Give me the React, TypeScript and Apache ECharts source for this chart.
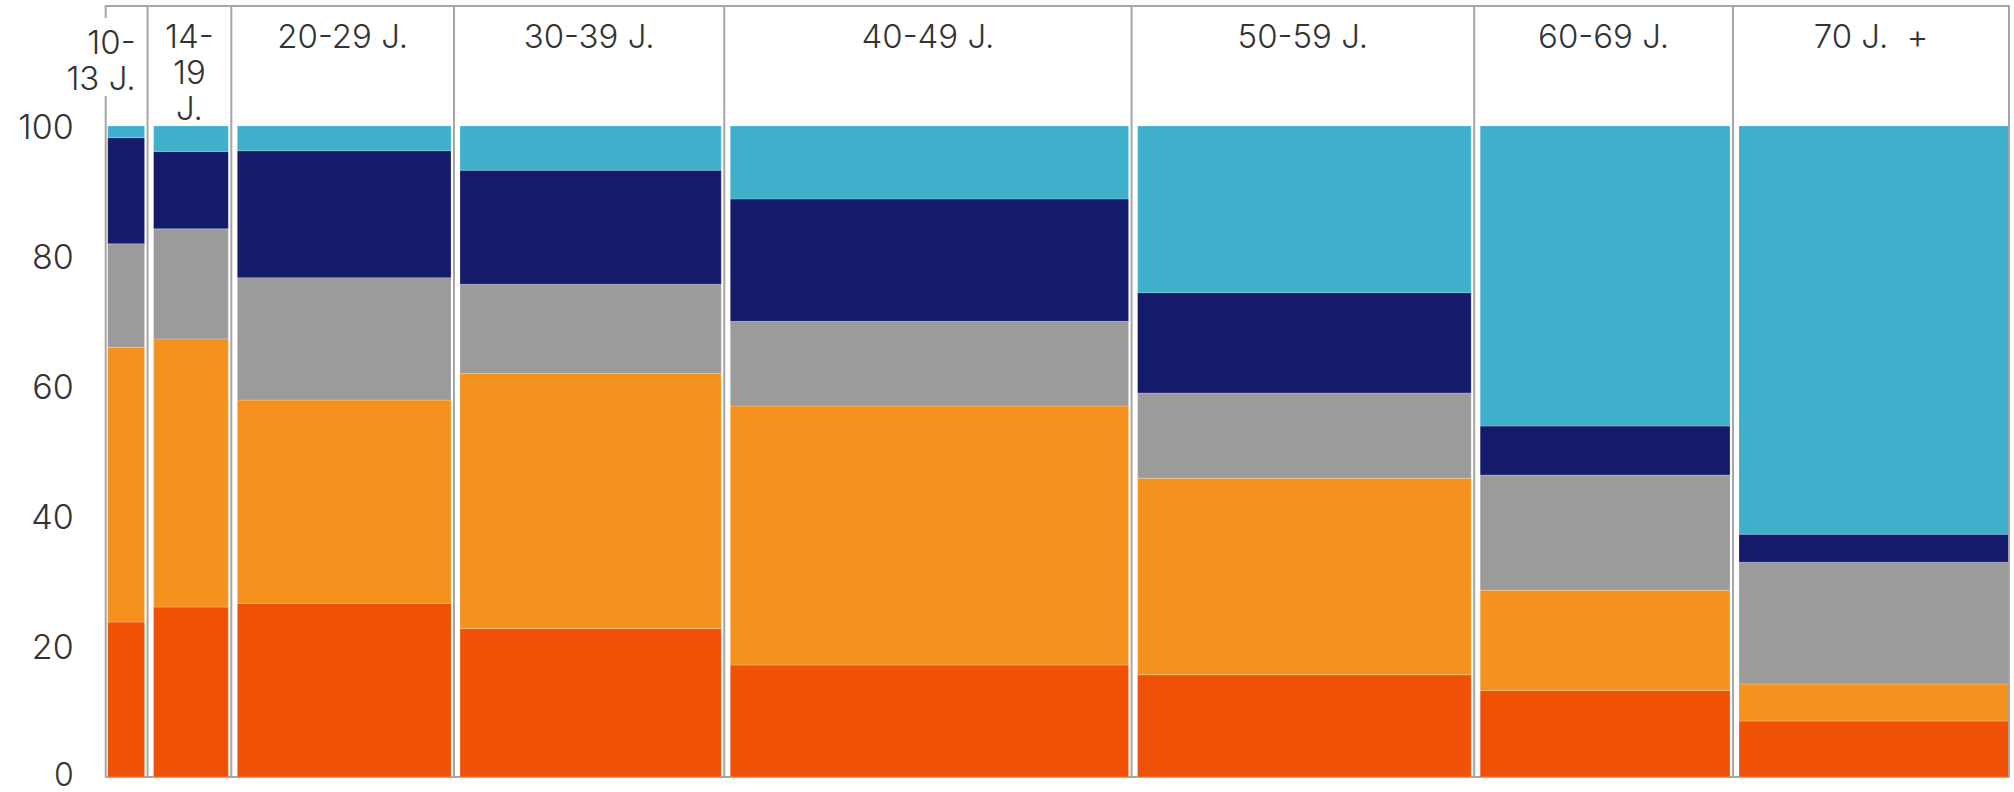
import React, { useEffect, useRef } from "react";
import * as echarts from "echarts";

// Column categories (age groups) and their share of the total width
const categories = ["10-\n13 J.", "14-\n19\nJ.", "20-29 J.", "30-39 J.", "40-49 J.", "50-59 J.", "60-69 J.", "70 J.  +"];
const columnWidths = [2.2, 4.4, 11.7, 14.2, 21.4, 18.0, 13.6, 14.5];

// Stacked segment values per column (percent), bottom to top
const segmentRed = [23.8, 26.1, 26.7, 22.8, 17.2, 15.7, 13.3, 8.6];
const segmentOrange = [42.2, 41.2, 31.2, 39.2, 39.8, 30.2, 15.4, 5.7];
const segmentGray = [15.9, 16.9, 18.8, 13.7, 13.0, 13.1, 17.7, 18.7];
const segmentNavy = [16.3, 11.9, 19.5, 17.5, 18.8, 15.4, 7.5, 4.3];
const segmentLightBlue = [1.8, 3.9, 3.8, 6.8, 11.2, 25.6, 46.1, 62.7];

const yMin = 0;
const yMax = 100;
const yInterval = 20;

const FONT = "Inter, 'Noto Sans', sans-serif";
const TEXT_COLOR = "#333333";
const LINE_COLOR = "#a6a6a6";

export default function App() {
  const ref = useRef<HTMLDivElement>(null);

  useEffect(() => {
    document.documentElement.style.overflow = "hidden";
    document.body.style.margin = "0";
    document.body.style.overflow = "hidden";
    if (!ref.current) return;
    const chart = echarts.init(ref.current, undefined, { renderer: "svg" });

    const n = categories.length;
    const starts: number[] = [];
    let acc = 0;
    for (let i = 0; i < n; i++) {
      starts.push(acc);
      acc += columnWidths[i];
    }
    const total = acc;
    const boundaries = [...starts, total];

    const segments = [
      { name: "Segment 1", values: segmentRed, color: "#f05106" },
      { name: "Segment 2", values: segmentOrange, color: "#f5921e" },
      { name: "Segment 3", values: segmentGray, color: "#9b9b9b" },
      { name: "Segment 4", values: segmentNavy, color: "#131b6a" },
      { name: "Segment 5", values: segmentLightBlue, color: "#3eb0cc" },
    ];

    const base = new Array(n).fill(0);
    const barSeries = segments.map((seg) => {
      const data = seg.values.map((v, i) => {
        const item = [starts[i], starts[i] + columnWidths[i], base[i], base[i] + v, i];
        base[i] += v;
        return item;
      });
      return {
        type: "custom",
        name: seg.name,
        coordinateSystem: "cartesian2d",
        z: 2,
        encode: { x: [0, 1], y: [2, 3] },
        data,
        renderItem: (params: any, api: any) => {
          const idx = api.value(4);
          const p0 = api.coord([api.value(0), api.value(3)]);
          const p1 = api.coord([api.value(1), api.value(2)]);
          const li = idx === 0 ? 2 : 6;
          const ri = idx === n - 1 ? 0 : 3;
          return {
            type: "rect",
            shape: {
              x: p0[0] + li,
              y: p0[1],
              width: p1[0] - p0[0] - li - ri,
              height: p1[1] - p0[1],
            },
            style: { fill: seg.color, stroke: "rgba(255,255,255,0.35)", lineWidth: 0.6 },
          };
        },
      };
    });

    const frameSeries = {
      type: "custom",
      name: "frame",
      coordinateSystem: "cartesian2d",
      z: 5,
      silent: true,
      encode: { x: 0 },
      data: boundaries.map((b, i) => [b, i]),
      renderItem: (params: any, api: any) => {
        const bottom = api.coord([api.value(0), yMin]);
        const top = api.coord([api.value(0), yMax]);
        const topY = top[1] - 120;
        const children: any[] = [
          {
            type: "line",
            shape: { x1: bottom[0], y1: bottom[1], x2: bottom[0], y2: topY },
            style: { stroke: LINE_COLOR, lineWidth: 2 },
          },
        ];
        if (api.value(1) === 0) {
          const right = api.coord([total, yMax]);
          children.push({
            type: "line",
            shape: { x1: bottom[0] - 1, y1: topY, x2: right[0] + 1, y2: topY },
            style: { stroke: LINE_COLOR, lineWidth: 2 },
          });
        }
        return { type: "group", children };
      },
    };

    const labelSeries = {
      type: "custom",
      name: "labels",
      coordinateSystem: "cartesian2d",
      z: 10,
      silent: true,
      encode: { x: [0, 1] },
      data: categories.map((c, i) => [starts[i], starts[i] + columnWidths[i], i]),
      renderItem: (params: any, api: any) => {
        const idx = api.value(2);
        const a = api.coord([api.value(0), yMax]);
        const b = api.coord([api.value(1), yMax]);
        const narrow = b[0] - a[0] < 60;
        return {
          type: "text",
          x: narrow ? b[0] - 10 : (a[0] + b[0]) / 2,
          y: a[1] - 108,
          style: {
            text: categories[idx],
            fill: TEXT_COLOR,
            fontSize: 33,
            fontFamily: FONT,
            fontWeight: 300,
            align: narrow ? "right" : "center",
            verticalAlign: "top",
            lineHeight: 36,
            backgroundColor: narrow ? "#ffffff" : "transparent",
            padding: narrow ? [6, 2, 0, 2] : 0,
          },
        };
      },
    };

    chart.setOption({
      animation: false,
      backgroundColor: "#ffffff",
      grid: {
        left: 105.7,
        right: 5,
        top: 126,
        bottom: 15,
        containLabel: false,
        outerBoundsMode: "none",
      },
      xAxis: {
        type: "value",
        min: 0,
        max: total,
        axisLine: { show: true, lineStyle: { color: LINE_COLOR, width: 2 } },
        axisTick: { show: false },
        axisLabel: { show: false },
        splitLine: { show: false },
      },
      yAxis: {
        type: "value",
        min: yMin,
        max: yMax,
        interval: yInterval,
        axisLine: { show: false },
        axisTick: { show: false },
        splitLine: { show: false },
        axisLabel: {
          fontSize: 34,
          lineHeight: 32,
          color: TEXT_COLOR,
          fontFamily: FONT,
          fontWeight: 300,
          margin: 32,
          formatter: (v: number) => (v === yMin ? `{lo|${v}}` : `${v}`),
          rich: {
            lo: {
              fontSize: 32,
              lineHeight: 26,
              color: TEXT_COLOR,
              fontFamily: FONT,
              fontWeight: 300,
              padding: [0, 0, 6, 0],
            },
          },
        },
      },
      series: [...barSeries, frameSeries, labelSeries],
    });

    return () => {
      chart.dispose();
    };
  }, []);

  return <div ref={ref} style={{ width: 2014, height: 792, background: "#fff" }} />;
}
